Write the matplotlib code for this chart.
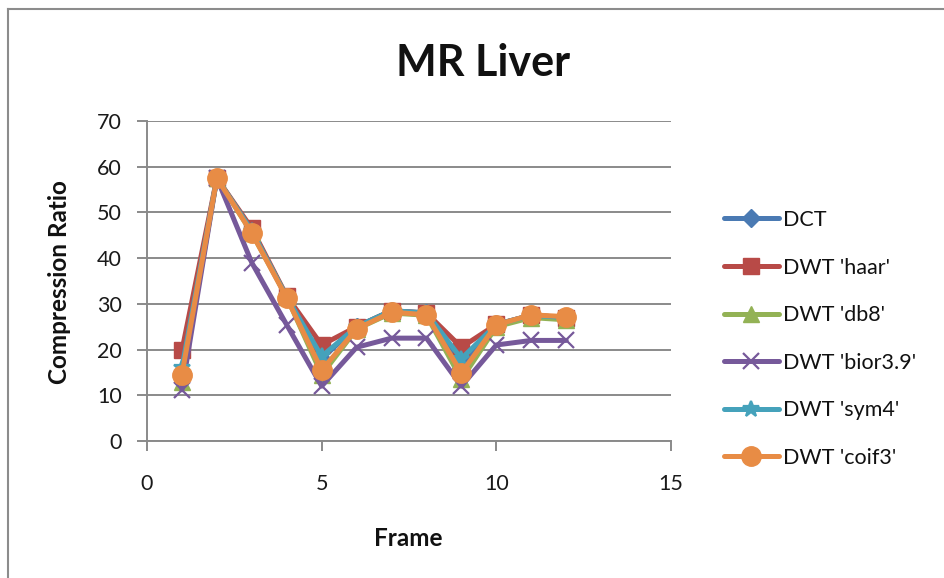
import matplotlib
matplotlib.use("Agg")
import matplotlib.pyplot as plt
from matplotlib.lines import Line2D

plt.rcParams['font.family'] = ['Lato', 'DejaVu Sans']

frames = [1, 2, 3, 4, 5, 6, 7, 8, 9, 10, 11, 12]
dct = [15, 57.5, 46, 31.5, 18, 25, 28.5, 28, 16, 25.5, 27.5, 27]
haar = [19.8, 57.5, 46.5, 31.7, 21, 25, 28.5, 28, 20.5, 25.5, 27.5, 27]
db8 = [13, 57.5, 45.5, 31.5, 14.5, 24.5, 28, 27.5, 13.5, 25, 27, 26.5]
bior = [11.2, 57.5, 39, 25.4, 12, 20.5, 22.5, 22.5, 12, 21, 22, 22]
sym4 = [16, 57.5, 46, 31.5, 18.5, 25, 28.5, 28, 18, 25.5, 27.5, 27]
coif3 = [14.5, 57.5, 45.5, 31.3, 15.5, 24.5, 28.2, 27.6, 14.9, 25.4, 27.6, 27.2]

labels = ["DCT", "DWT 'haar'", "DWT 'db8'", "DWT 'bior3.9'", "DWT 'sym4'", "DWT 'coif3'"]
series = [dct, haar, db8, bior, sym4, coif3]
colors = ["#4A7AB3", "#B84A47", "#93B255", "#76599A", "#45A2BB", "#E88C45"]
markers = ["D", "s", "^", "x", "*", "o"]
msizes = [9, 12, 11, 11, 12, 14]

W, H = 945, 578
fig = plt.figure(figsize=(W / 100, H / 100), dpi=100)
fig.patch.set_facecolor("white")

# chart frame lines (top and left)
fig.add_artist(Line2D([8 / W, 1], [1 - 9 / H, 1 - 9 / H], color="#8c8c8c", lw=1.5))
fig.add_artist(Line2D([8 / W, 8 / W], [0, 1 - 9 / H], color="#8c8c8c", lw=1.5))

ax = fig.add_axes([147 / W, 1 - 441 / H, (671 - 147) / W, (441 - 121) / H])
ax.set_facecolor("none")

for vals, lab, c, m, ms in zip(series, labels, colors, markers, msizes):
    kw = dict(marker=m, markersize=ms, markerfacecolor=c, markeredgecolor=c)
    if m in ("x", "*"):
        kw.update(markeredgewidth=1.6)
    ax.plot(frames, vals, color=c, lw=3.6, label=lab, solid_joinstyle="round",
            solid_capstyle="round", **kw)

ax.set_xlim(0, 15)
ax.set_ylim(0, 70)
ax.set_xticks([0, 5, 10, 15])
ax.set_yticks(range(0, 71, 10))
ax.yaxis.grid(True, color="#8a8a8a", lw=1.4)
ax.set_axisbelow(True)
for s in ("top", "right"):
    ax.spines[s].set_visible(False)
for s in ("left", "bottom"):
    ax.spines[s].set_color("#8a8a8a")
    ax.spines[s].set_linewidth(1.4)
ax.tick_params(axis="both", colors="#8a8a8a", width=1.4, length=7, labelsize=15.5,
               labelcolor="#1a1a1a")
ax.tick_params(axis="y", pad=11)
ax.tick_params(axis="x", pad=17)

fig.text(483 / W, 1 - 63 / H, "MR Liver", ha="center", va="center",
         fontsize=31, fontweight="bold", color="#111111")
fig.text(60 / W, 1 - 282 / H, "Compression Ratio", ha="center", va="center",
         rotation=90, fontsize=17.5, fontweight="bold", color="#111111")
fig.text(408 / W, 1 - 538 / H, "Frame", ha="center", va="center",
         fontsize=17.5, fontweight="bold", color="#111111")

leg = ax.legend(loc="upper left", bbox_to_anchor=(724 / W, 1 - 210 / H),
                bbox_transform=fig.transFigure, frameon=False, fontsize=15.5,
                handlelength=2.55, handletextpad=0.2, labelspacing=1.28,
                borderaxespad=0, borderpad=0)
for t in leg.get_texts():
    t.set_color("#111111")

fig.savefig("out.png", dpi=100)
